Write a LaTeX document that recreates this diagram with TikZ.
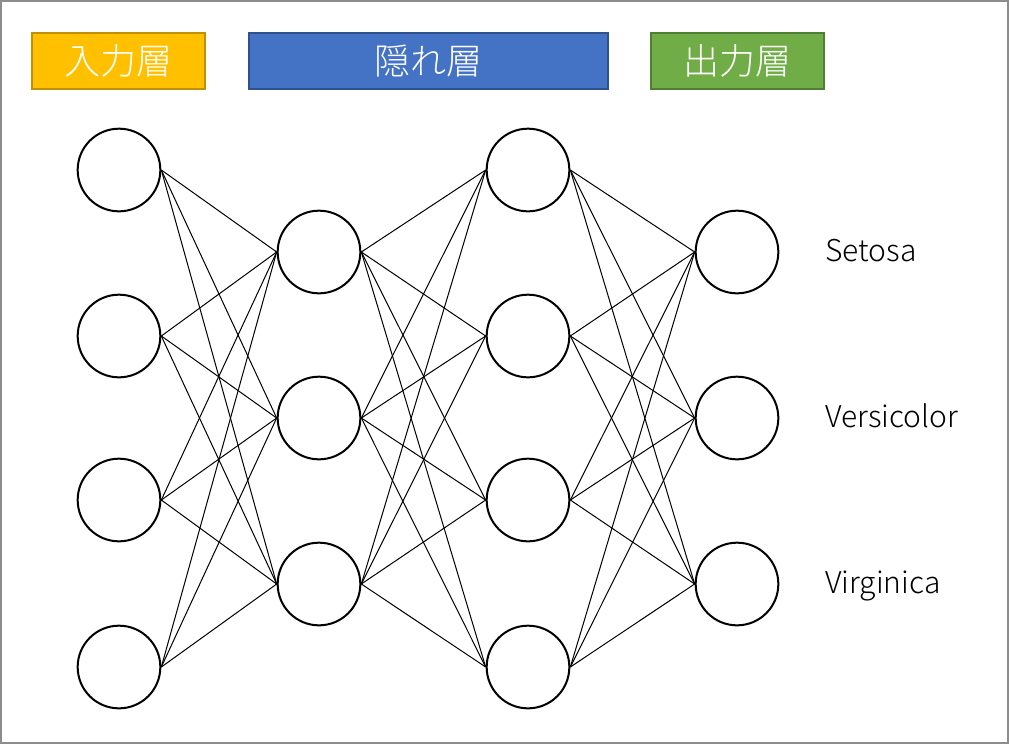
\documentclass[tikz,border=0pt]{standalone}
\usepackage{fontspec}
\setmainfont{Noto Sans CJK JP}[UprightFont=* Light]
\usepackage{xcolor}
\usepackage{tikz}
\usetikzlibrary{arrows.meta}
\usetikzlibrary{positioning}

\definecolor{framegray}{HTML}{8C8C8C}
\definecolor{inyellow}{HTML}{FFC000}
\definecolor{inyellowline}{HTML}{BF9000}
\definecolor{hidblue}{HTML}{4472C4}
\definecolor{hidblueline}{HTML}{2F528F}
\definecolor{outgreen}{HTML}{70AD47}
\definecolor{outgreenline}{HTML}{507E32}

\tikzset{
  neuron/.style={draw=black, circle, line width=1.5pt, minimum size=62pt, inner sep=0pt, fill=white},
  layerbox/.style={line width=1.5pt, minimum height=42pt, inner sep=0pt, text=white, font=\fontsize{27}{30}\selectfont},
  classlabel/.style={anchor=base west, inner sep=0pt, font=\fontsize{22.5}{26}\selectfont},
  synapse/.style={line width=0.75pt}
}

\begin{document}
\begin{tikzpicture}[x=0.75pt, y=-0.75pt]
    \useasboundingbox (0,0) rectangle (1009,744);
    \draw[framegray, line width=1.5pt] (1,1) rectangle (1008,743);

    \node[layerbox, fill=inyellow, draw=inyellowline, minimum width=129.75pt] (L1) at (118.5,61) {入力層};
    \node[layerbox, fill=hidblue, draw=hidblueline, minimum width=269.25pt] (L2) at (428.5,61) {隠れ層};
    \node[layerbox, fill=outgreen, draw=outgreenline, minimum width=129.75pt] (L4) at (737.5,60.5) {出力層};

    \node[neuron] (I1) at (119,170) {};
    \node[neuron] (I2) at (119,336) {};
    \node[neuron] (I3) at (119,500) {};
    \node[neuron] (I4) at (119,667) {};
    \node[neuron] (H1) at (319,252) {};
    \node[neuron] (H2) at (319,418) {};
    \node[neuron] (H3) at (319,584) {};
    \node[neuron] (K1) at (528,170) {};
    \node[neuron] (K2) at (528,336) {};
    \node[neuron] (K3) at (528,500) {};
    \node[neuron] (K4) at (528,667) {};
    \node[neuron] (O1) at (737,252) {};
    \node[neuron] (O2) at (737,418) {};
    \node[neuron] (O3) at (737,584) {};

    \foreach \a in {1,2,3,4} {
      \foreach \b in {1,2,3} {
        \path [synapse] (I\a.east) edge (H\b.west);
        \path [synapse] (H\b.east) edge (K\a.west);
        \path [synapse] (K\a.east) edge (O\b.west);
      }
    }

    \node[classlabel] (C1) at (825,261) {Setosa};
    \node[classlabel] (C2) at (825,427) {Versicolor};
    \node[classlabel] (C3) at (825,593) {Virginica};
  \end{tikzpicture}
\end{document}
